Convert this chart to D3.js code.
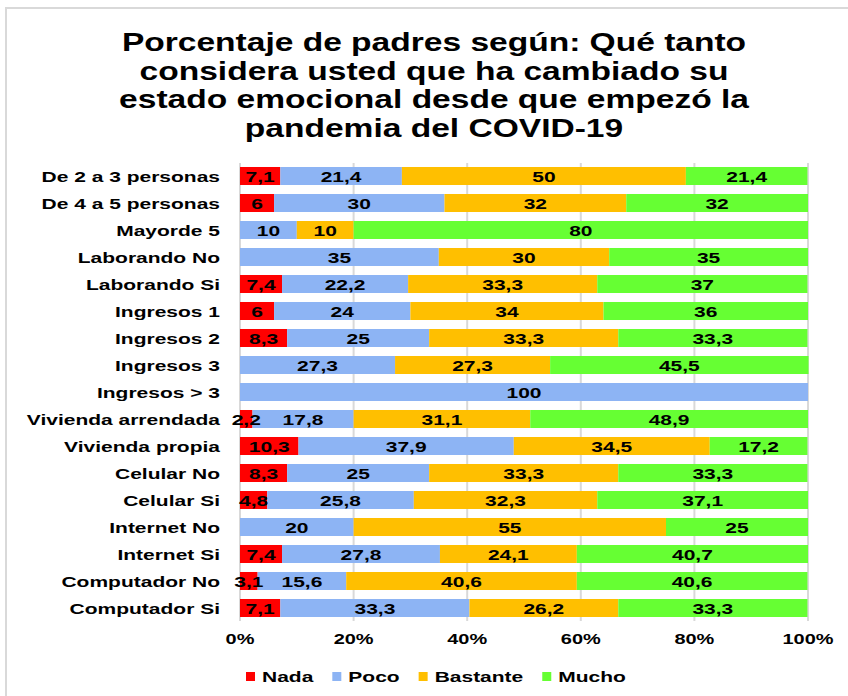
<!DOCTYPE html>
<html>
<head>
<meta charset="utf-8">
<script src="https://cdn.jsdelivr.net/npm/d3@7"></script>
<style>
  html, body { margin: 0; padding: 0; background: #fff; }
  svg { display: block; font-family: "Liberation Sans", Arial, sans-serif; font-weight: bold; }
</style>
</head>
<body>
<svg id="chart" width="848" height="696"></svg>
<script>
const titleLines = ["Porcentaje de padres según: Qué tanto",
                    "considera usted que ha cambiado su",
                    "estado emocional desde que empezó la",
                    "pandemia del COVID-19"];
const categories = ["De 2 a 3 personas", "De 4 a 5 personas", "Mayorde 5", "Laborando No",
  "Laborando Si", "Ingresos 1", "Ingresos 2", "Ingresos 3", "Ingresos > 3",
  "Vivienda arrendada", "Vivienda propia", "Celular No", "Celular Si",
  "Internet No", "Internet Si", "Computador No", "Computador Si"];
const seriesNames = ["Nada", "Poco", "Bastante", "Mucho"];
const seriesColors = ["#ff0000", "#8db4f4", "#ffbf00", "#66ff33"];
const nada     = [7.1, 6, 0, 0, 7.4, 6, 8.3, 0, 0, 2.2, 10.3, 8.3, 4.8, 0, 7.4, 3.1, 7.1];
const poco     = [21.4, 30, 10, 35, 22.2, 24, 25, 27.3, 100, 17.8, 37.9, 25, 25.8, 20, 27.8, 15.6, 33.3];
const bastante = [50, 32, 10, 30, 33.3, 34, 33.3, 27.3, 0, 31.1, 34.5, 33.3, 32.3, 55, 24.1, 40.6, 26.2];
const mucho    = [21.4, 32, 80, 35, 37, 36, 33.3, 45.5, 0, 48.9, 17.2, 33.3, 37.1, 25, 40.7, 40.6, 33.3];
const tickValues = [0, 20, 40, 60, 80, 100];

const SX = 1.4;   // horizontal text stretch of the original picture
const SXT = 1.29; // title stretch
const svg = d3.select("#chart");

// frame
svg.append("path").attr("d", "M6,700 L6,8 L860,8")
  .attr("fill", "none").attr("stroke", "#d9d9d9").attr("stroke-width", 2);

function stext(g, x, y, txt, size, anchor, sx) {
  return g.append("text")
    .attr("transform", `translate(${x},${y}) scale(${sx || SX},1)`)
    .attr("text-anchor", anchor)
    .attr("font-size", size)
    .attr("fill", "#000")
    .text(txt);
}

// title
const tg = svg.append("g");
titleLines.forEach((l, i) => stext(tg, 434, 51 + i * 28.5, l, 26, "middle", SXT));

const x = d3.scaleLinear().domain([0, 100]).range([240, 808]);
const y = d3.scaleBand().domain(categories).range([162.5, 621.5]).paddingInner(0.333).paddingOuter(0.1665);

// grid
svg.append("g").selectAll("line").data(tickValues).join("line")
  .attr("x1", d => x(d)).attr("x2", d => x(d))
  .attr("y1", 163).attr("y2", 621)
  .attr("stroke", "#d9d9d9").attr("stroke-width", 2);

const rows = categories.map((c, i) => ({ cat: c, vals: [nada[i], poco[i], bastante[i], mucho[i]] }));
const stack = d3.stack().keys([0, 1, 2, 3]).value((d, k) => d.vals[k]);
const layers = stack(rows);

const bars = svg.append("g");
layers.forEach((layer, k) => {
  bars.append("g").attr("fill", seriesColors[k]).selectAll("rect").data(layer).join("rect")
    .attr("x", d => x(d[0]))
    .attr("width", d => Math.max(0, x(d[1]) - x(d[0])))
    .attr("y", d => y(d.data.cat))
    .attr("height", y.bandwidth());
});

const labels = svg.append("g");
layers.forEach((layer, k) => {
  layer.forEach(d => {
    const v = d.data.vals[k];
    if (!v) return;
    const cx = (x(d[0]) + x(d[1])) / 2;
    const cy = y(d.data.cat) + y.bandwidth() / 2 + 5.5;
    stext(labels, cx, cy, String(v).replace(".", ","), 15, "middle");
  });
});

// category labels
const cg = svg.append("g");
categories.forEach(c => stext(cg, 220, y(c) + y.bandwidth() / 2 + 5.5, c, 15, "end"));

// x axis tick labels
const ag = svg.append("g");
tickValues.forEach(t => stext(ag, x(t), 644, t + "%", 15, "middle", 1.33));

// legend
const lg = svg.append("g");
let lx = 246;
seriesNames.forEach((n, k) => {
  lg.append("rect").attr("x", lx).attr("y", 672).attr("width", 9).attr("height", 9).attr("fill", seriesColors[k]);
  const t = stext(lg, lx + 16, 682, n, 15, "start");
  const w = t.node().getComputedTextLength() * SX;
  lx = lx + 16 + w + 19;
});
</script>
</body>
</html>
